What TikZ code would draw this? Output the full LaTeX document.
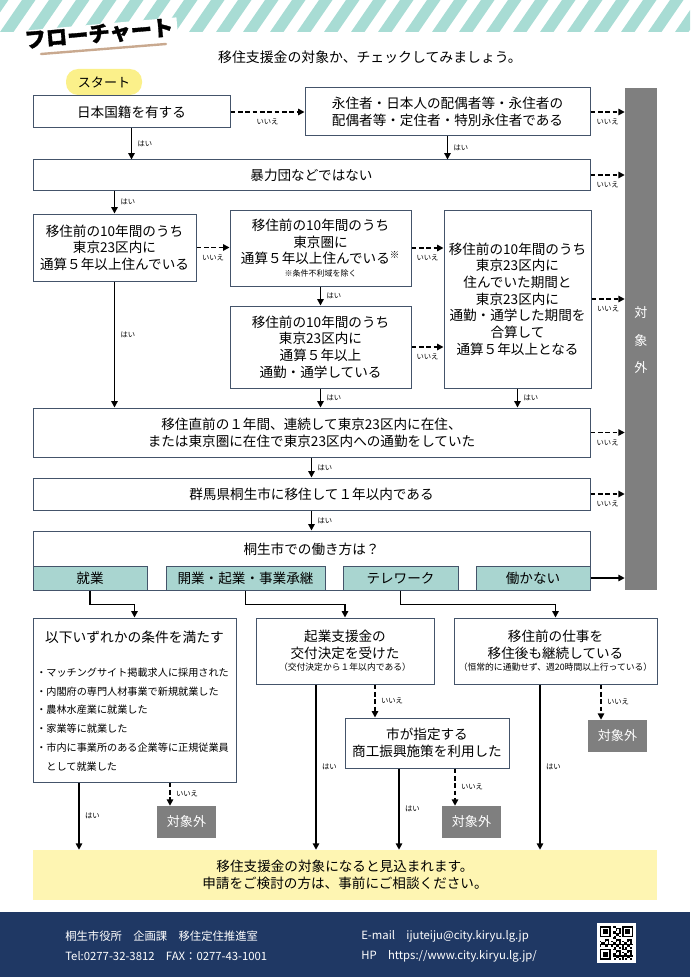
\documentclass[tikz,border=0pt]{standalone}
\usepackage{fontspec}
\setmainfont{Noto Sans CJK JP}
\newfontfamily\titlefont{Noto Sans CJK JP}[BoldFeatures={FakeBold=1.5}]
\usetikzlibrary{arrows.meta}
\definecolor{bordc}{HTML}{44546A}
\definecolor{tealc}{HTML}{A9D5D0}
\definecolor{stripec}{HTML}{A8DCD4}
\definecolor{grayc}{HTML}{7F7F7F}
\definecolor{finc}{HTML}{FEF5B2}
\definecolor{blobc}{HTML}{FBF08A}
\definecolor{navyc}{HTML}{1F3864}
\definecolor{brownc}{HTML}{C9A98F}
\newcommand\fs[2]{\fontsize{#1pt}{#2pt}\selectfont}
\tikzset{
  sz/.style 2 args={minimum width=#1*0.75pt, minimum height=#2*0.75pt},
  box/.style={draw=bordc, line width=0.75pt, fill=white, inner sep=0pt, align=center, font=\fs{10.2}{12.5}},
  subbox/.style={box, fill=tealc},
  ngbox/.style={fill=grayc, text=white, inner sep=0pt, align=center, font=\fs{9.8}{12}},
  finbox/.style={fill=finc, inner sep=0pt, align=center, font=\fs{10.2}{12.8}},
  txt/.style={inner sep=0pt, font=\fs{10.2}{12.5}},
  arr/.style={draw=black, line width=1.1pt, -{Triangle[length=4.8pt,width=4.8pt]}},
  darr/.style={arr, dash pattern=on 3.5pt off 2pt},
  lbl/.style={inner sep=0.5pt, font=\fs{5.5}{6}},
  lblr/.style={lbl, anchor=west, xshift=3.5pt},
  lblb/.style={lbl, anchor=north, yshift=-4pt},
  ft/.style={text=white, inner sep=0pt, anchor=west, font=\fs{8.5}{10}},
}
\begin{document}
\begin{tikzpicture}[x=0.75pt, y=-0.75pt]
\useasboundingbox (0,0) rectangle (690,977);
% header stripes
\begin{scope}
\clip (0,0) rectangle (690,32);
\foreach \k in {-2,...,27} {\fill[stripec] (\k*27,32) -- (\k*27+13.5,32) -- (\k*27+35.5,0) -- (\k*27+22,0) -- cycle;}
\end{scope}
\node[rotate=5, fill=white, inner xsep=3pt, inner ysep=0pt, font=\titlefont\bfseries\fs{16}{18}] (title) at (99,34) {フローチャート};
\draw[brownc, line width=1.8pt, line cap=round] (41,54) -- (166,44);
\node[txt, font=\fs{10.4}{12.5}] (sub) at (370,57) {移住支援金の対象か、チェックしてみましょう。};
% start
\fill[blobc, rounded corners=9pt] (66,69) rectangle (142,95);
\node[txt, font=\fs{9.8}{12}] (start) at (104,82) {スタート};
% boxes
\node[box, sz={197}{32}] (b1) at (131.5,112) {日本国籍を有する};
\node[box, sz={285}{48}] (b2) at (447.5,112) {永住者・日本人の配偶者等・永住者の\\配偶者等・定住者・特別永住者である};
\node[ngbox, sz={32}{502}] (ng) at (641,339) {};
\node[ngbox] at (641,313) {対};
\node[ngbox] at (641,341) {象};
\node[ngbox] at (641,368) {外};
\node[box, sz={557}{30}] (b3) at (311.5,175) {暴力団などではない};
\node[box, sz={163}{67}] (b4) at (114.5,247.5) {移住前の10年間のうち\\東京23区内に\\通算５年以上住んでいる};
\node[box, sz={181}{76}] (b5) at (320.5,248) {移住前の10年間のうち\\東京圏に\\通算５年以上住んでいる\textsuperscript{※}\\[-3pt]{\fs{6}{7}※条件不利域を除く}};
\node[box, sz={147}{178}] (b6) at (517.5,299) {移住前の10年間のうち\\東京23区内に\\住んでいた期間と\\東京23区内に\\通勤・通学した期間を\\合算して\\通算５年以上となる};
\node[box, sz={181}{82}] (b7) at (320.5,347) {移住前の10年間のうち\\東京23区内に\\通算５年以上\\通勤・通学している};
\node[box, sz={557}{49}] (b8) at (311.5,432.5) {移住直前の１年間、連続して東京23区内に在住、\\または東京圏に在住で東京23区内への通勤をしていた};
\node[box, sz={557}{32}] (b9) at (311.5,494) {群馬県桐生市に移住して１年以内である};
\node[box, sz={557}{59}] (b10) at (311.5,560.5) {};
\node[txt] (q) at (311.5,549) {桐生市での働き方は？};
\node[subbox, sz={114}{24}] (s1) at (90,578) {就業};
\node[subbox, sz={159}{24}] (s2) at (245.5,578) {開業・起業・事業承継};
\node[subbox, sz={115}{24}] (s3) at (400.5,578) {テレワーク};
\node[subbox, sz={114}{24}] (s4) at (533,578) {働かない};
% lower boxes
\node[box, sz={203}{164}] (b11) at (134.5,700) {};
\node[txt, font=\fs{10.3}{12}] (b11t) at (134.5,637) {以下いずれかの条件を満たす};
\begin{scope}[every node/.style={txt, anchor=west, font=\fs{7.6}{9}}]
\node (l1) at (36,673) {・マッチングサイト掲載求人に採用された};
\node (l2) at (36,692) {・内閣府の専門人材事業で新規就業した};
\node (l3) at (36,710) {・農林水産業に就業した};
\node (l4) at (36,729) {・家業等に就業した};
\node (l5) at (36,748) {・市内に事業所のある企業等に正規従業員};
\node (l6) at (36,767) {　として就業した};
\end{scope}
\node[box, sz={178}{66}] (b12) at (345,651) {起業支援金の\\交付決定を受けた\\[-3pt]{\fs{6.6}{8}（交付決定から１年以内である）}};
\node[box, sz={203}{66}] (b13) at (555.5,651) {移住前の仕事を\\移住後も継続している\\[-3pt]{\fs{6.6}{8}（恒常的に通勤せず、週20時間以上行っている）}};
\node[box, sz={164}{50}] (b14) at (427,743) {市が指定する\\商工振興施策を利用した};
\node[ngbox, sz={59}{32}] (ng1) at (186.5,822) {対象外};
\node[ngbox, sz={59}{32}] (ng2) at (471.5,822) {対象外};
\node[ngbox, sz={59}{32}] (ng3) at (617.5,736) {対象外};
\node[finbox, sz={624}{50}] (fin) at (345,875) {移住支援金の対象になると見込まれます。\\申請をご検討の方は、事前にご相談ください。};
% connectors
\draw[darr] (b1.east) -- node[lblb]{いいえ} (b1.east -| b2.west);
\draw[darr] (b2.east) -- node[lblb]{いいえ} (b2.east -| ng.west);
\draw[arr] (b1.south) -- node[lblr]{はい} (b1.south |- b3.north);
\draw[arr] (b2.south) -- node[lblr]{はい} (b2.south |- b3.north);
\draw[darr] (b3.east) -- node[lblb]{いいえ} (b3.east -| ng.west);
\draw[arr] (b4.north |- b3.south) -- node[lblr]{はい} (b4.north);
\draw[darr] (b4.east) -- node[lblb]{いいえ} (b4.east -| b5.west);
\draw[darr] (b5.east) -- node[lblb]{いいえ} (b5.east -| b6.west);
\draw[arr] (b5.south) -- node[lblr]{はい} (b7.north);
\draw[darr] (b7.east) -- node[lblb]{いいえ} (b7.east -| b6.west);
\draw[darr] (b6.east) -- node[lblb]{いいえ} (b6.east -| ng.west);
\draw[arr] (b4.south) -- node[lblr, pos=0.42]{はい} (b4.south |- b8.north);
\draw[arr] (b7.south) -- node[lblr]{はい} (b7.south |- b8.north);
\draw[arr] (b6.south) -- node[lblr]{はい} (b6.south |- b8.north);
\draw[darr] (b8.east) -- node[lblb]{いいえ} (b8.east -| ng.west);
\draw[arr] (b8.south) -- node[lblr]{はい} (b9.north);
\draw[darr] (b9.east) -- node[lblb]{いいえ} (b9.east -| ng.west);
\draw[arr] (b9.south) -- node[lblr]{はい} (b10.north);
\draw[arr] (s4.east) -- (s4.east -| ng.west);
\draw[arr] (s1.south) -- ++(0,14) -| (b11.north);
\draw[arr] (s2.south) -- ++(0,14) -| (b12.north);
\draw[arr] (s3.south) -- ++(0,14) -| (b13.north);
\coordinate (cA) at (79,0);
\coordinate (cB) at (170,0);
\coordinate (cC) at (316,0);
\coordinate (cD) at (375,0);
\coordinate (cE) at (399,0);
\coordinate (cF) at (455,0);
\coordinate (cG) at (540,0);
\coordinate (cH) at (601,0);
\draw[arr] (b11.south -| cA) -- node[lblr]{はい} (fin.north -| cA);
\draw[darr] (b11.south -| cB) -- node[lblr]{いいえ} (ng1.north -| cB);
\draw[arr] (b12.south -| cC) -- node[lblr]{はい} (fin.north -| cC);
\draw[darr] (b12.south -| cD) -- node[lblr]{いいえ} (b14.north -| cD);
\draw[arr] (b14.south -| cE) -- node[lblr]{はい} (fin.north -| cE);
\draw[darr] (b14.south -| cF) -- node[lblr]{いいえ} (ng2.north -| cF);
\draw[arr] (b13.south -| cG) -- node[lblr]{はい} (fin.north -| cG);
\draw[darr] (b13.south -| cH) -- node[lblr]{いいえ} (ng3.north -| cH);
% footer
\fill[navyc] (0,912) rectangle (690,977);
\node[ft] (f1) at (65,936) {桐生市役所　企画課　移住定住推進室};
\node[ft] (f2) at (65,956) {Tel:0277-32-3812　FAX：0277-43-1001};
\node[ft] (f3) at (361,936) {E-mail　ijuteiju@city.kiryu.lg.jp};
\node[ft] (f4) at (361,956) {HP　https://www.city.kiryu.lg.jp/};
% QR
\fill[white] (597,923) rectangle (636,963);
\begin{scope}[shift={(599.7,926.2)}, x=1.2pt, y=-1.2pt]
\foreach \i in {0,...,20}{\foreach \j in {0,...,20}{%
  \pgfmathtruncatemacro\v{mod(\i*\i*7+\j*\j*3+\i*\j*5+\i+2*\j,7)}%
  \ifnum\v<3 \fill[black] (\i,\j) rectangle ++(1,1);\fi}}
\fill[white] (0,0) rectangle (8,8);
\fill[white] (13,0) rectangle (21,8);
\fill[white] (0,13) rectangle (8,21);
\foreach \a/\b in {0/0,14/0,0/14}{%
  \fill[black] (\a,\b) rectangle ++(7,7);
  \fill[white] (\a+1,\b+1) rectangle ++(5,5);
  \fill[black] (\a+2,\b+2) rectangle ++(3,3);}
\end{scope}
\end{tikzpicture}
\end{document}
